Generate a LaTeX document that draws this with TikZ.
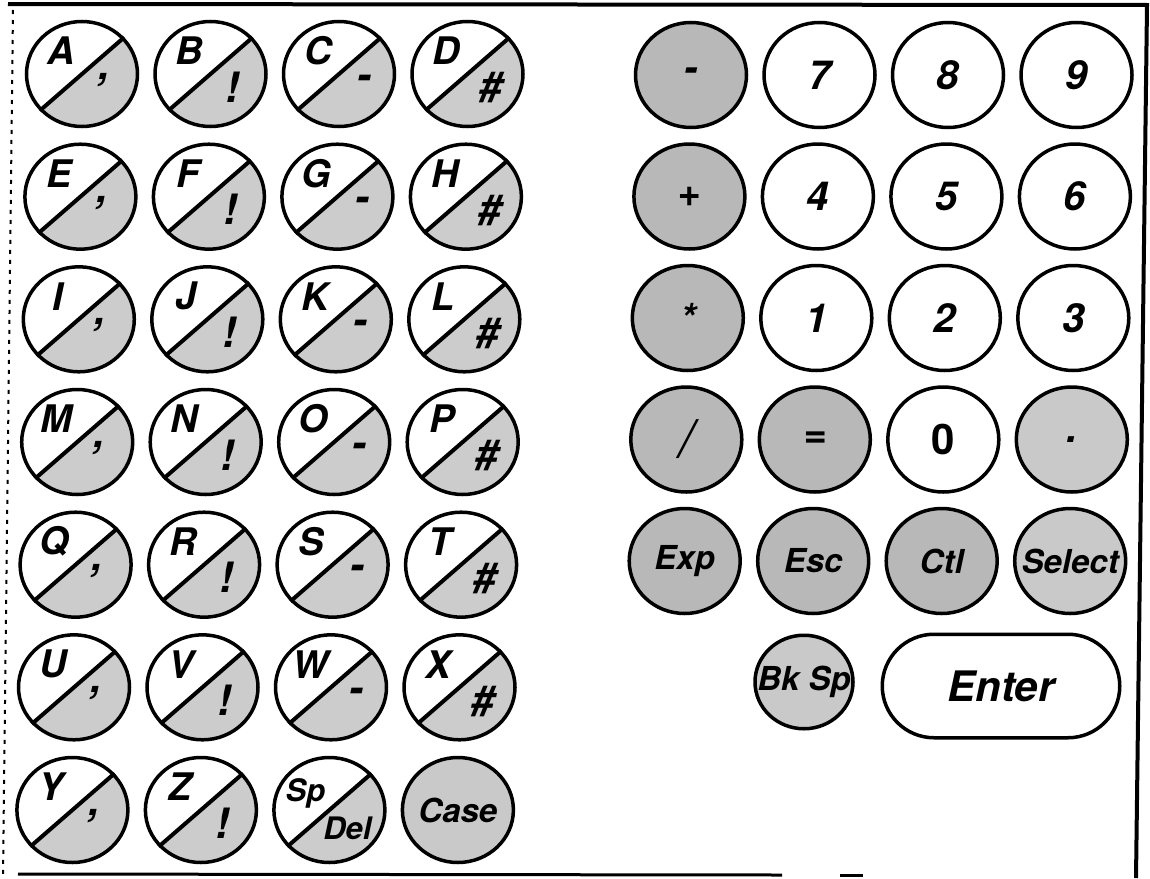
\documentclass[tikz,border=0pt]{standalone}
\usepackage{fontspec}
\setmainfont{TeX Gyre Heros}
\usetikzlibrary{calc,shapes.geometric,shapes.misc}

\tikzset{
  keyline/.style={line width=1.75pt},
  halfgray/.style={fill=black!20},
  keybase/.style={draw, ellipse, keyline, inner sep=0pt, minimum width=55.5pt, minimum height=52.5pt},
  lkey/.style={keybase, path picture={%
      \fill[halfgray] ($(path picture bounding box.center)+(41:60pt)$)
        -- ($(path picture bounding box.center)+(221:60pt)$)
        -- ($(path picture bounding box.center)+(311:60pt)$) -- cycle;}},
  opkey/.style={keybase, fill=black!28},
  lightkey/.style={keybase, fill=black!21},
  wkey/.style={keybase, fill=white},
  diag/.style={line width=2pt},
  ltxt/.style={font=\bfseries\itshape\fontsize{19}{19}\selectfont, inner sep=0pt},
  symtxt/.style={font=\bfseries\itshape\fontsize{21}{21}\selectfont, inner sep=0pt},
  dtxt/.style={font=\bfseries\itshape\fontsize{20}{20}\selectfont, inner sep=0pt},
  ftxt/.style={font=\bfseries\itshape\fontsize{16.5}{16.5}\selectfont, inner sep=0pt},
  stxt/.style={font=\bfseries\itshape\fontsize{15.5}{15.5}\selectfont, inner sep=0pt},
  btxt/.style={font=\bfseries\itshape\fontsize{16.5}{16.5}\selectfont, inner sep=0pt},
  etxt/.style={font=\bfseries\itshape\fontsize{21}{21}\selectfont, inner sep=0pt},
  frame/.style={line width=1.75pt},
}

% name, x, y, letter, symbol, symbol dx (pt), symbol dy (pt)
\newcommand\letterkey[7]{%
  \node[lkey] (#1) at (#2,#3) {};
  \draw[diag] (#1.41) -- (#1.221);
  \node[ltxt] (#1-l) at ($(#1)+(-10.5pt,11.5pt)$) {#4};
  \node[symtxt] (#1-s) at ($(#1)+(#6pt,#7pt)$) {#5};
}
% style, name, x, y, text style, text
\newcommand\padkey[6]{%
  \node[#1] (#2) at (#3,#4) {};
  \node[#5] (#2-t) at (#2) {#6};
}

\begin{document}
\begin{tikzpicture}[x=0.5pt,y=-0.5pt]
\useasboundingbox (0,0) rectangle (1150,878);

% frame
\draw[frame, line width=2pt] (8,4) -- (1147,5) -- (1136,878);
\draw[frame, line width=1.5pt] (18,874) -- (782,875);
\draw[frame, line width=1.5pt] (840,875) -- (863,875);
\draw[line width=1pt, dash pattern=on 2pt off 3pt] (13,10) -- (3,876);

% letter keys
\letterkey{A}{82}{74}{A}{,}{11}{-3}
\letterkey{B}{210.5}{74}{B}{!}{11}{-6.5}
\letterkey{C}{339}{74}{C}{-}{12.5}{-4}
\letterkey{D}{467.5}{74}{D}{\#}{12}{-7}

\letterkey{E}{80.4}{196.7}{E}{,}{11}{-3}
\letterkey{F}{208.9}{196.7}{F}{!}{11}{-6.5}
\letterkey{G}{337.4}{196.7}{G}{-}{12.5}{-4}
\letterkey{H}{465.9}{196.7}{H}{\#}{12}{-7}

\letterkey{I}{78.8}{319.3}{I}{,}{11}{-3}
\letterkey{J}{207.3}{319.3}{J}{!}{11}{-6.5}
\letterkey{K}{335.8}{319.3}{K}{-}{12.5}{-4}
\letterkey{L}{464.3}{319.3}{L}{\#}{12}{-7}

\letterkey{M}{77.2}{442}{M}{,}{11}{-3}
\letterkey{N}{205.7}{442}{N}{!}{11}{-6.5}
\letterkey{O}{334.2}{442}{O}{-}{12.5}{-4}
\letterkey{P}{462.7}{442}{P}{\#}{12}{-7}

\letterkey{Q}{75.6}{564.7}{Q}{,}{11}{-3}
\letterkey{R}{204.1}{564.7}{R}{!}{11}{-6.5}
\letterkey{S}{332.6}{564.7}{S}{-}{12.5}{-4}
\letterkey{T}{461.1}{564.7}{T}{\#}{12}{-7}

\letterkey{U}{74}{687.3}{U}{,}{11}{-3}
\letterkey{V}{202.5}{687.3}{V}{!}{11}{-6.5}
\letterkey{W}{331}{687.3}{W}{-}{12.5}{-4}
\letterkey{X}{459.5}{687.3}{X}{\#}{12}{-7}

\letterkey{Y}{72.4}{810}{Y}{,}{11}{-3}
\letterkey{Z}{200.9}{810}{Z}{!}{11}{-6.5}

% Sp / Del key
\node[lkey] (spdel) at (329.4,810) {};
\draw[diag] (spdel.41) -- (spdel.221);
\node[stxt] (spdel-l) at ($(spdel)+(-12pt,8.5pt)$) {Sp};
\node[stxt] (spdel-s) at ($(spdel)+(9pt,-9pt)$) {Del};

% Case key
\padkey{lightkey}{case}{457.9}{810}{ftxt}{Case}

% numeric / function pad
\padkey{opkey}{minus}{691}{75}{dtxt}{-}
\padkey{wkey}{k7}{819.5}{75}{dtxt}{7}
\padkey{wkey}{k8}{948}{75}{dtxt}{8}
\padkey{wkey}{k9}{1076.5}{75}{dtxt}{9}

\padkey{opkey}{plus}{689.4}{196.5}{dtxt}{+}
\padkey{wkey}{k4}{817.9}{196.5}{dtxt}{4}
\padkey{wkey}{k5}{946.4}{196.5}{dtxt}{5}
\padkey{wkey}{k6}{1074.9}{196.5}{dtxt}{6}

\padkey{opkey}{times}{687.8}{318}{dtxt}{*}
\padkey{wkey}{k1}{816.3}{318}{dtxt}{1}
\padkey{wkey}{k2}{944.8}{318}{dtxt}{2}
\padkey{wkey}{k3}{1073.3}{318}{dtxt}{3}

\node[opkey] (div) at (686.3,439.5) {};
\node[font=\itshape\fontsize{26}{26}\selectfont, inner sep=0pt] (div-t) at (div) {/};
\padkey{opkey}{eq}{814.8}{439.5}{dtxt}{=}
\node[wkey] (k0) at (943.3,439.5) {};
\node[font=\bfseries\fontsize{21}{21}\selectfont, inner sep=0pt] (k0-t) at (k0) {0};
\padkey{lightkey}{dot}{1071.8}{439.5}{dtxt}{.}

\padkey{opkey}{exp}{684.7}{561}{ftxt}{Exp}
\padkey{opkey}{esc}{813.2}{561}{ftxt}{Esc}
\padkey{opkey}{ctl}{941.7}{561}{ftxt}{Ctl}
\padkey{lightkey}{select}{1070.2}{561}{ftxt}{Select}

\node[keybase, fill=black!21, minimum width=49pt, minimum height=46.75pt] (bksp) at (804,682) {};
\node[btxt] (bksp-t) at (bksp) {Bk Sp};

\node[draw, rounded rectangle, keyline, fill=white, inner sep=0pt,
      minimum width=118.75pt, minimum height=51.75pt] (enter) at (1001,686) {};
\node[etxt] (enter-t) at (enter) {Enter};

\end{tikzpicture}
\end{document}
